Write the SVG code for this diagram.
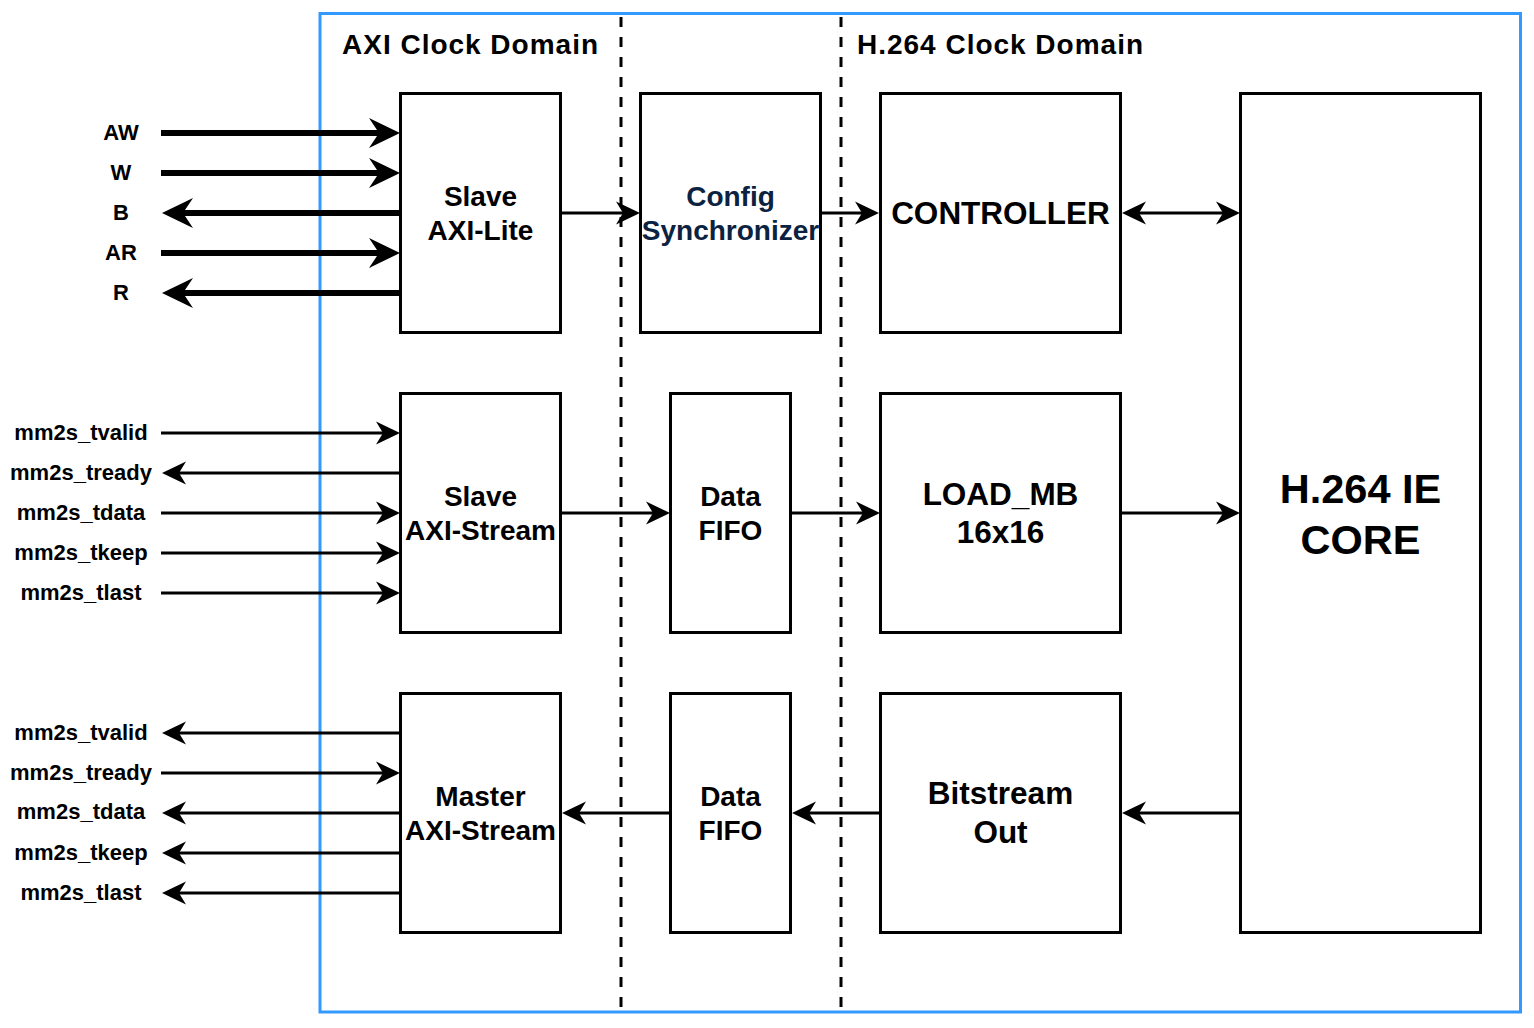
<svg xmlns="http://www.w3.org/2000/svg" width="1534" height="1028" viewBox="0 0 1534 1028">
<style>
.box{fill:#fff;stroke:#000;stroke-width:3}
.t{font-family:"Liberation Sans",Arial,Helvetica,sans-serif;font-weight:bold;fill:#000;text-anchor:middle}
.lbl{font-size:22px}
.b28{font-size:28px}
.b31{font-size:31.5px}
.hd{font-family:"Liberation Sans",Arial,Helvetica,sans-serif;font-weight:bold;font-size:28px;fill:#000}
.thin{fill:none;stroke:#000;stroke-width:3;marker-end:url(#ah)}
.thick{fill:none;stroke:#000;stroke-width:6;marker-end:url(#ahb)}
.dash{stroke:#000;stroke-width:3;stroke-dasharray:10 10}
</style>
<defs>
<marker id="ah" markerUnits="userSpaceOnUse" markerWidth="24" markerHeight="24" viewBox="0 0 24 24" refX="7" refY="12" orient="auto-start-reverse">
<path d="M0,0.5 L24,12 L0,23.5 L7,12 Z" fill="#000"/>
</marker>
<marker id="ahb" markerUnits="userSpaceOnUse" markerWidth="31" markerHeight="30" viewBox="0 0 31 30" refX="10" refY="15" orient="auto-start-reverse">
<path d="M0,0 L31,15 L0,30 L10,15 Z" fill="#000"/>
</marker>
</defs>
<rect width="1534" height="1028" fill="#fff"/>
<g id="frame">
<rect x="320" y="13.5" width="1200.5" height="998.5" fill="none" stroke="#3399FF" stroke-width="3"/>
<line class="dash" x1="621" y1="17" x2="621" y2="1012"/>
<line class="dash" x1="841" y1="17" x2="841" y2="1012"/>
<text class="hd" x="342" y="53.5" textLength="256" lengthAdjust="spacing">AXI Clock Domain</text>
<text class="hd" x="857" y="53.5" textLength="286" lengthAdjust="spacing">H.264 Clock Domain</text>
</g>
<g id="slave-axi-lite">
<rect class="box" x="400.5" y="93.5" width="160" height="239"/>
<text class="t b28" x="480.5" y="205.5">Slave</text>
<text class="t b28" x="480.5" y="239.5">AXI-Lite</text>
</g>
<g id="config-sync">
<rect class="box" x="640.5" y="93.5" width="180" height="239"/>
<text class="t b28" x="730.5" y="205.5" style="fill:#0b2340">Config</text>
<text class="t b28" x="730.5" y="239.5" style="fill:#0b2340">Synchronizer</text>
</g>
<g id="controller">
<rect class="box" x="880.5" y="93.5" width="240" height="239"/>
<text class="t" x="1000.5" y="224" style="font-size:31.5px">CONTROLLER</text>
</g>
<g id="h264-core">
<rect class="box" x="1240.5" y="93.5" width="240" height="839"/>
<text class="t" x="1360.5" y="503" style="font-size:41.5px">H.264 IE</text>
<text class="t" x="1360.5" y="553.5" style="font-size:41.5px">CORE</text>
</g>
<g id="slave-axi-stream">
<rect class="box" x="400.5" y="393.5" width="160" height="239"/>
<text class="t b28" x="480.5" y="505.5">Slave</text>
<text class="t b28" x="480.5" y="539.5">AXI-Stream</text>
</g>
<g id="data-fifo-in">
<rect class="box" x="670.5" y="393.5" width="120" height="239"/>
<text class="t b28" x="730.5" y="505.5">Data</text>
<text class="t b28" x="730.5" y="539.5">FIFO</text>
</g>
<g id="load-mb">
<rect class="box" x="880.5" y="393.5" width="240" height="239"/>
<text class="t b31" x="1000.5" y="504.5">LOAD_MB</text>
<text class="t b31" x="1000.5" y="543">16x16</text>
</g>
<g id="master-axi-stream">
<rect class="box" x="400.5" y="693.5" width="160" height="239"/>
<text class="t b28" x="480.5" y="805.5">Master</text>
<text class="t b28" x="480.5" y="839.5">AXI-Stream</text>
</g>
<g id="data-fifo-out">
<rect class="box" x="670.5" y="693.5" width="120" height="239"/>
<text class="t b28" x="730.5" y="805.5">Data</text>
<text class="t b28" x="730.5" y="839.5">FIFO</text>
</g>
<g id="bitstream-out">
<rect class="box" x="880.5" y="693.5" width="240" height="239"/>
<text class="t b31" x="1000.5" y="803.5">Bitstream</text>
<text class="t b31" x="1000.5" y="843">Out</text>
</g>
<g id="port-labels">
<text class="t lbl" x="121" y="140">AW</text>
<text class="t lbl" x="121" y="180">W</text>
<text class="t lbl" x="121" y="220">B</text>
<text class="t lbl" x="121" y="260">AR</text>
<text class="t lbl" x="121" y="300">R</text>
<text class="t lbl" x="81" y="440">mm2s_tvalid</text>
<text class="t lbl" x="81" y="480">mm2s_tready</text>
<text class="t lbl" x="81" y="520">mm2s_tdata</text>
<text class="t lbl" x="81" y="560">mm2s_tkeep</text>
<text class="t lbl" x="81" y="600">mm2s_tlast</text>
<text class="t lbl" x="81" y="740">mm2s_tvalid</text>
<text class="t lbl" x="81" y="780">mm2s_tready</text>
<text class="t lbl" x="81" y="819">mm2s_tdata</text>
<text class="t lbl" x="81" y="860">mm2s_tkeep</text>
<text class="t lbl" x="81" y="900">mm2s_tlast</text>
</g>
<g id="connectors">
<path class="thick" d="M161,133 H379"/>
<path class="thick" d="M161,173 H379"/>
<path class="thick" d="M400,213 H183"/>
<path class="thick" d="M161,253 H379"/>
<path class="thick" d="M400,293 H183"/>
<path class="thin" d="M161,433 H383"/>
<path class="thin" d="M400,473 H179"/>
<path class="thin" d="M161,513 H383"/>
<path class="thin" d="M161,553 H383"/>
<path class="thin" d="M161,593 H383"/>
<path class="thin" d="M400,733 H179"/>
<path class="thin" d="M161,773 H383"/>
<path class="thin" d="M400,813 H179"/>
<path class="thin" d="M400,853 H179"/>
<path class="thin" d="M400,893 H179"/>
<path class="thin" d="M561,213 H623"/>
<path class="thin" d="M821,213 H862"/>
<path class="thin" d="M1139,213 H1223" marker-start="url(#ah)"/>
<path class="thin" d="M561,513 H653"/>
<path class="thin" d="M791,513 H863"/>
<path class="thin" d="M1121,513 H1223"/>
<path class="thin" d="M1240,813 H1139"/>
<path class="thin" d="M880,813 H809"/>
<path class="thin" d="M670,813 H579"/>
</g>
</svg>
